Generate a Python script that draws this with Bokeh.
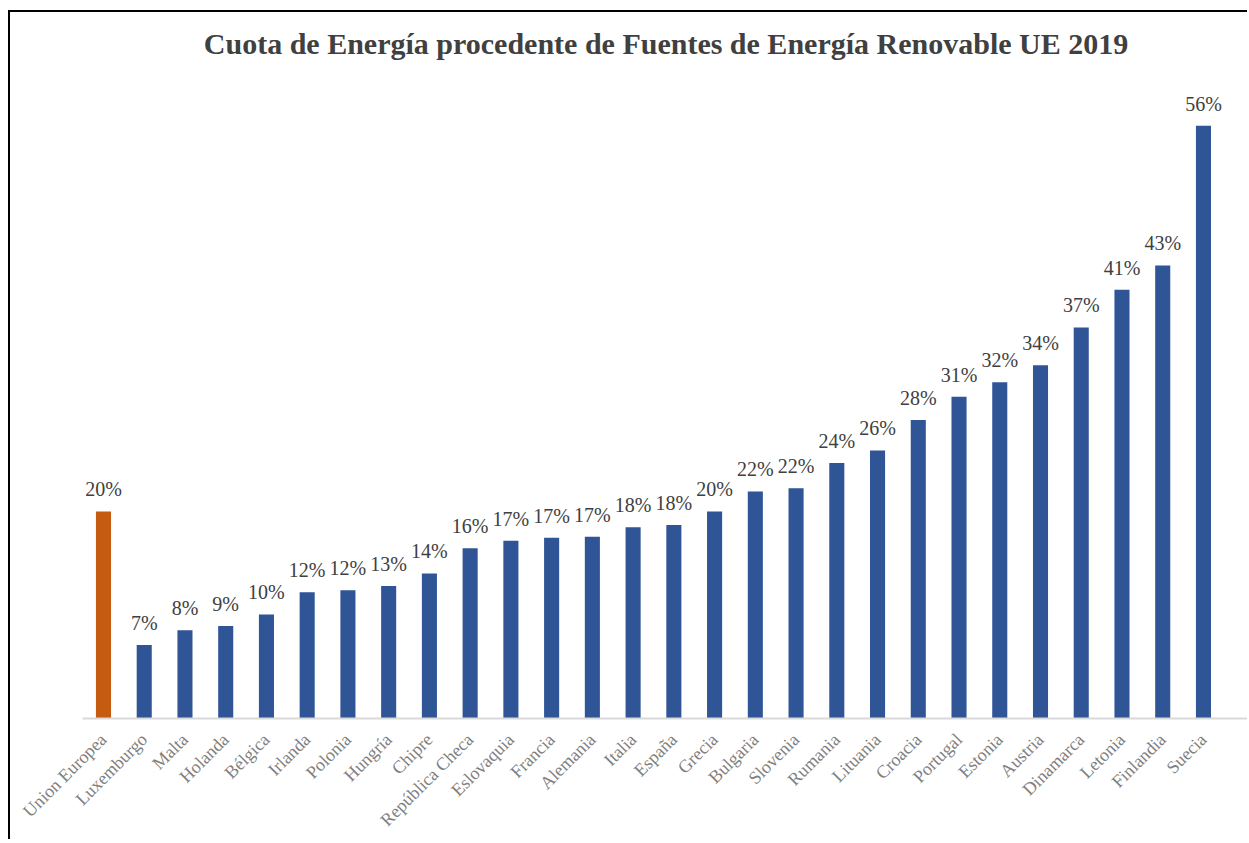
import numpy as np
from bokeh.plotting import figure
from bokeh.models import ColumnDataSource, Range1d, FixedTicker, LabelSet
from bokeh.embed import file_html
from bokeh.resources import INLINE

paises = ["Union Europea", "Luxemburgo", "Malta", "Holanda", "Bélgica", "Irlanda", "Polonia",
          "Hungría", "Chipre", "República Checa", "Eslovaquia", "Francia", "Alemania", "Italia",
          "España", "Grecia", "Bulgaria", "Slovenia", "Rumania", "Lituania", "Croacia", "Portugal",
          "Estonia", "Austria", "Dinamarca", "Letonia", "Finlandia", "Suecia"]
cuota = [19.7, 7.0, 8.4, 8.8, 9.9, 12.0, 12.2, 12.6, 13.8, 16.2, 16.9, 17.2, 17.3, 18.2,
         18.4, 19.7, 21.6, 21.9, 24.3, 25.5, 28.4, 30.6, 32.0, 33.6, 37.2, 40.8, 43.1, 56.4]
colores_serie = {"UE": "#C55A11", "pais": "#2F5597"}

x = np.arange(len(paises))
colors = [colores_serie["UE"] if i == 0 else colores_serie["pais"] for i in range(len(paises))]
etiquetas = [f"{int(v + 0.5)}%" for v in cuota]

src = ColumnDataSource(dict(x=x, top=cuota, color=colors, label=etiquetas))

p = figure(width=1239, height=829, output_backend="svg", toolbar_location=None,
           x_range=Range1d(-0.515, 28.13), y_range=Range1d(0, 61.65),
           min_border_left=72, min_border_right=0, min_border_bottom=123, min_border_top=58,
           title="Cuota de Energía procedente de Fuentes de Energía Renovable UE 2019")
p.styles = {"border-left": "2px solid #000000", "border-top": "2px solid #000000",
            "margin-left": "8px", "margin-top": "10px"}

p.vbar(x="x", top="top", width=0.37, bottom=0, color="color", line_color=None, source=src)

labels = LabelSet(x="x", y="top", text="label", source=src, text_align="center",
                  text_baseline="bottom", y_offset=11, text_font="Liberation Serif",
                  text_font_size="20px", text_color="#404040")
p.add_layout(labels)

p.title.text_font = "Liberation Serif"
p.title.text_font_size = "30px"
p.title.text_font_style = "bold"
p.title.text_color = "#404040"
p.title.align = "center"
p.title.standoff = 21

p.yaxis.visible = False
p.ygrid.visible = False
p.xgrid.visible = False
p.outline_line_color = None

xa = p.xaxis[0]
xa.ticker = FixedTicker(ticks=list(x))
xa.major_label_overrides = {int(i): n for i, n in zip(x, paises)}
xa.major_label_orientation = np.pi / 4
xa.major_label_text_font = "Liberation Serif"
xa.major_label_text_font_size = "18px"
xa.major_label_text_color = "#808080"
xa.major_tick_line_color = None
xa.minor_tick_line_color = None
xa.axis_line_color = "#D9D9D9"
xa.axis_line_width = 2
xa.major_label_standoff = 12

open("out.html", "w").write(file_html(p, INLINE))
